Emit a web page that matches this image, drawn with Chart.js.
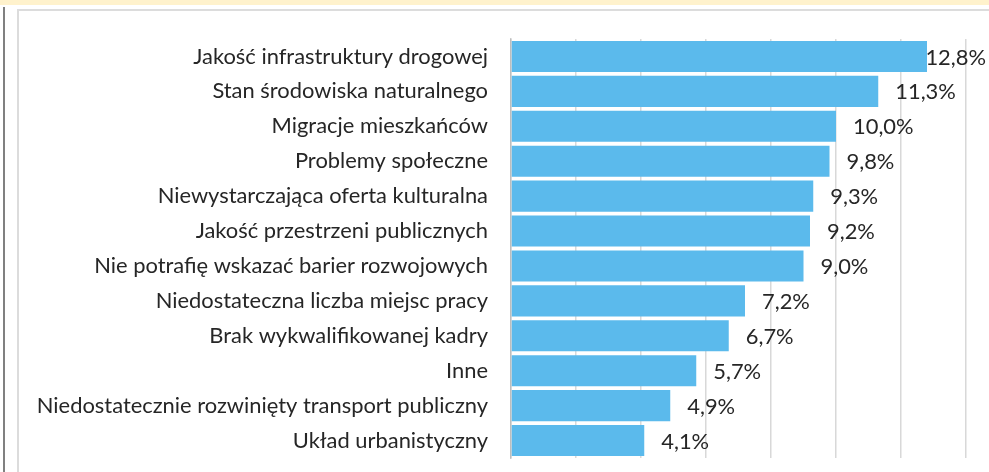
<!DOCTYPE html>
<html>
<head>
<meta charset="utf-8">
<script src="https://cdn.jsdelivr.net/npm/chart.js@4.4.1/dist/chart.umd.min.js"></script>
<style>
  html,body{margin:0;padding:0;background:#fff;}
  #wrap{position:relative;width:989px;height:472px;overflow:hidden;background:#fff;}
  #band{position:absolute;left:0;top:0;width:989px;height:5px;background:#fff2cc;}
  #vline{position:absolute;left:3px;top:7px;width:2px;height:465px;background:#808080;}
  #frameL{position:absolute;left:17px;top:9px;width:2px;height:463px;background:#dcdcdc;}
  #frameT{position:absolute;left:17px;top:9px;width:972px;height:2px;background:#dcdcdc;}
  canvas{position:absolute;left:0;top:0;}
</style>
</head>
<body>
<div id="wrap">
  <div id="band"></div>
  <div id="vline"></div>
  <div id="frameL"></div>
  <div id="frameT"></div>
  <canvas id="c" width="989" height="472"></canvas>
</div>
<script>
const categories = [
  "Jakość infrastruktury drogowej",
  "Stan środowiska naturalnego",
  "Migracje mieszkańców",
  "Problemy społeczne",
  "Niewystarczająca oferta kulturalna",
  "Jakość przestrzeni publicznych",
  "Nie potrafię wskazać barier rozwojowych",
  "Niedostateczna liczba miejsc pracy",
  "Brak wykwalifikowanej kadry",
  "Inne",
  "Niedostatecznie rozwinięty transport publiczny",
  "Układ urbanistyczny"
];
const values = [12.8, 11.3, 10.0, 9.8, 9.3, 9.2, 9.0, 7.2, 6.7, 5.7, 4.9, 4.1];
const valueLabels = ["12,8%","11,3%","10,0%","9,8%","9,3%","9,2%","9,0%","7,2%","6,7%","5,7%","4,9%","4,1%"];

const FONT_FAMILY = "Lato, 'Open Sans', sans-serif";
// fit font size so the longest label spans ~451px
const mctx = document.createElement('canvas').getContext('2d');
mctx.font = "100px " + FONT_FAMILY;
let longest = 0;
categories.forEach(c => { longest = Math.max(longest, mctx.measureText(c).width); });
const FONT_SIZE = Math.round(451 / longest * 100 * 10) / 10;

const labelPlugin = {
  id: 'valueLabels',
  afterDraw(chart) {
    const ctx = chart.ctx;
    const meta = chart.getDatasetMeta(0);
    ctx.save();
    ctx.font = FONT_SIZE + "px " + FONT_FAMILY;
    ctx.fillStyle = "#262626";
    ctx.textBaseline = "middle";
    ctx.textAlign = "left";
    meta.data.forEach((bar, i) => {
      const t = valueLabels[i];
      const w = ctx.measureText(t).width;
      let x = bar.x + 17;
      if (x + w > 986) x = 986 - w;
      ctx.fillText(t, x, bar.y + 1);
    });
    ctx.restore();
  }
};

new Chart(document.getElementById('c'), {
  type: 'bar',
  data: {
    labels: categories,
    datasets: [{
      data: values,
      backgroundColor: '#5bbaec',
      borderWidth: 0,
      categoryPercentage: 1.0,
      barPercentage: 0.89
    }]
  },
  options: {
    indexAxis: 'y',
    responsive: false,
    animation: false,
    devicePixelRatio: 1,
    layout: { padding: { top: 39, bottom: 14, right: 23, left: 0 } },
    plugins: { legend: { display: false }, tooltip: { enabled: false } },
    scales: {
      x: {
        min: 0, max: 14,
        z: 1,
        afterFit(scale) { scale.height = 0; scale.paddingLeft = 0; scale.paddingRight = 0; },
        ticks: { display: false, stepSize: 2 },
        grid: { color: 'rgba(190,190,190,0.6)', lineWidth: 1.5, drawTicks: false },
        border: { display: false }
      },
      y: {
        z: 1,
        afterFit(scale) { scale.width = 511; scale.paddingTop = 0; scale.paddingBottom = 0; },
        ticks: {
          padding: 23,
          color: '#262626',
          font: { family: FONT_FAMILY, size: FONT_SIZE }
        },
        grid: { display: false, drawTicks: false },
        border: { display: true, color: 'rgba(180,180,180,0.7)', width: 1.5 }
      }
    }
  },
  plugins: [labelPlugin]
});
</script>
</body>
</html>
